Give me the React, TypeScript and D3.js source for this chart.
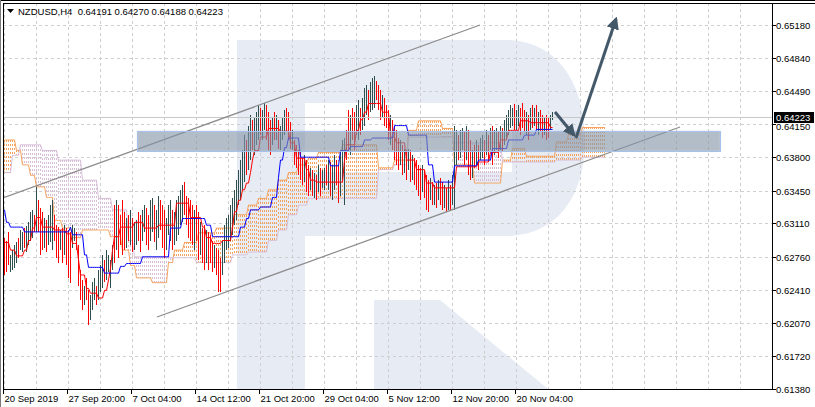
import * as d3 from 'd3'

// ---- chart data (prices in pips, 0.0001) ----
const priceTicks = [0.6518, 0.6484, 0.6449, 0.6415, 0.638, 0.6345, 0.6311, 0.6276, 0.6241, 0.6207, 0.6172, 0.6138]
const timeLabels = ['20 Sep 2019', '27 Sep 20:00', '7 Oct 04:00', '14 Oct 12:00', '21 Oct 20:00', '29 Oct 04:00', '5 Nov 12:00', '12 Nov 20:00', '20 Nov 04:00']
const timeLabelBars = [0, 32, 64, 96, 128, 160, 192, 224, 256]

const highs = [
  6296, 6293, 6302, 6278, 6283, 6288, 6291, 6296, 6304, 6302,
  6306, 6308, 6312, 6323, 6325, 6320, 6349, 6335, 6327, 6323,
  6316, 6314, 6320, 6330, 6335, 6320, 6309, 6307, 6304, 6306,
  6309, 6306, 6304, 6302, 6309, 6306, 6302, 6288, 6262, 6252,
  6246, 6254, 6241, 6236, 6250, 6254, 6246, 6262, 6267, 6278,
  6273, 6283, 6278, 6273, 6288, 6330, 6335, 6330, 6320, 6335,
  6323, 6316, 6320, 6325, 6316, 6312, 6314, 6323, 6320, 6325,
  6330, 6327, 6320, 6335, 6337, 6330, 6325, 6340, 6335, 6330,
  6325, 6316, 6330, 6335, 6325, 6323, 6335, 6340, 6346, 6351,
  6354, 6340, 6337, 6335, 6330, 6325, 6330, 6323, 6312, 6306,
  6309, 6304, 6302, 6299, 6293, 6288, 6285, 6283, 6275, 6293,
  6309, 6316, 6320, 6330, 6337, 6346, 6356, 6367, 6377, 6387,
  6403, 6398, 6413, 6424, 6419, 6421, 6427, 6434, 6431, 6429,
  6437, 6434, 6427, 6419, 6421, 6427, 6424, 6419, 6413, 6421,
  6429, 6431, 6427, 6417, 6408, 6398, 6393, 6387, 6385, 6379,
  6382, 6377, 6372, 6369, 6367, 6364, 6361, 6372, 6369, 6367,
  6369, 6372, 6377, 6375, 6372, 6382, 6377, 6372, 6387, 6398,
  6400, 6408, 6429, 6424, 6431, 6427, 6434, 6440, 6431, 6442,
  6452, 6455, 6450, 6458, 6463, 6465, 6460, 6455, 6450, 6445,
  6442, 6434, 6429, 6424, 6419, 6413, 6408, 6400, 6398, 6393,
  6389, 6387, 6389, 6387, 6382, 6379, 6377, 6372, 6369, 6372,
  6367, 6361, 6356, 6358, 6354, 6351, 6353, 6356, 6358, 6354,
  6351, 6348, 6356, 6351, 6361, 6413, 6408, 6403, 6408, 6410,
  6406, 6413, 6408, 6398, 6387, 6393, 6398, 6393, 6400, 6403,
  6398, 6408, 6403, 6410, 6413, 6408, 6410, 6406, 6413, 6410,
  6419, 6424, 6429, 6434, 6431, 6436, 6429, 6434, 6431, 6437,
  6429, 6427, 6424, 6431, 6434, 6431, 6434, 6427, 6429, 6424,
  6421, 6424, 6421, 6424, 6427,
]
const lows = [
  6257, 6260, 6267, 6260, 6262, 6264, 6270, 6275, 6283, 6281,
  6285, 6281, 6288, 6293, 6296, 6302, 6302, 6302, 6278, 6283,
  6285, 6281, 6288, 6291, 6283, 6293, 6275, 6270, 6283, 6270,
  6278, 6267, 6254, 6249, 6285, 6293, 6283, 6246, 6231, 6220,
  6226, 6231, 6205, 6210, 6220, 6231, 6226, 6231, 6239, 6243,
  6250, 6252, 6260, 6243, 6262, 6270, 6283, 6275, 6288, 6278,
  6283, 6285, 6293, 6288, 6281, 6283, 6288, 6293, 6281, 6293,
  6302, 6288, 6283, 6293, 6302, 6291, 6283, 6296, 6304, 6285,
  6275, 6283, 6299, 6293, 6283, 6288, 6293, 6299, 6309, 6312,
  6320, 6309, 6296, 6293, 6288, 6283, 6293, 6273, 6278, 6270,
  6262, 6270, 6262, 6270, 6260, 6264, 6257, 6239, 6239, 6257,
  6270, 6283, 6285, 6293, 6299, 6309, 6314, 6330, 6335, 6346,
  6354, 6361, 6367, 6377, 6387, 6382, 6393, 6398, 6403, 6398,
  6408, 6398, 6387, 6382, 6393, 6398, 6398, 6389, 6387, 6398,
  6403, 6406, 6398, 6389, 6387, 6372, 6369, 6361, 6356, 6351,
  6354, 6344, 6340, 6346, 6340, 6337, 6335, 6344, 6340, 6348,
  6346, 6351, 6346, 6340, 6335, 6346, 6351, 6332, 6340, 6356,
  6330, 6377, 6387, 6382, 6398, 6387, 6403, 6398, 6403, 6408,
  6413, 6424, 6419, 6427, 6429, 6431, 6440, 6429, 6419, 6421,
  6413, 6410, 6398, 6393, 6387, 6377, 6372, 6367, 6372, 6361,
  6364, 6356, 6367, 6354, 6356, 6351, 6346, 6340, 6335, 6344,
  6337, 6325, 6323, 6335, 6330, 6330, 6327, 6335, 6330, 6325,
  6327, 6323, 6325, 6325, 6330, 6325, 6372, 6377, 6379, 6387,
  6372, 6377, 6361, 6356, 6358, 6369, 6372, 6367, 6377, 6379,
  6372, 6382, 6375, 6387, 6372, 6382, 6387, 6379, 6387, 6385,
  6393, 6398, 6403, 6410, 6413, 6408, 6408, 6413, 6403, 6410,
  6406, 6403, 6398, 6408, 6410, 6413, 6408, 6403, 6406, 6400,
  6403, 6398, 6400, 6408, 6419,
]
// u = bullish bar, d = bearish bar
const barDirs =
  'ddduuuuduu' + 'duuuududdd' + 'uduuudddud' + 'uddduudddd' + 'udduuuduuu' +
  'duuuududdd' + 'dududuuddu' + 'udduuduudd' + 'duuuduuuuu' + 'ddddduddud' +
  'dudddudddu' + 'uuuuuuuuuu' + 'uduuduuudu' + 'udddududuu' + 'uddduddddd' +
  'uddudududu' + 'ududuudduu' + 'uddudduudu' + 'uuduuudddu' + 'ddduddddud' +
  'udududdddu' + 'dddudududd' + 'ududuuuduu' + 'duddududuu' + 'dududuudud' +
  'uuuuuduudd' + 'dududududd' + 'udduu'

// Ichimoku lines as [value, bars] runs
const tenkanRuns = [
  [6291, 3], [6283, 3], [6277, 4], [6283, 2], [6293, 2], [6306, 2], [6317, 3], [6307, 6], [6304, 6], [6300, 3],
  [6290, 3], [6273, 1], [6257, 3], [6243, 2], [6238, 4], [6233, 3], [6241, 2], [6252, 1], [6264, 1], [6283, 1],
  [6297, 3], [6307, 7], [6312, 5], [6306, 7], [6309, 9], [6332, 7], [6317, 6], [6307, 2], [6296, 3], [6290, 5],
  [6293, 5], [6307, 1], [6323, 2], [6335, 2], [6346, 2], [6353, 2], [6364, 1], [6377, 1], [6387, 3], [6401, 4],
  [6410, 6], [6407, 5], [6395, 3], [6379, 5], [6367, 2], [6356, 3], [6354, 14], [6377, 1], [6393, 5], [6408, 2],
  [6419, 2], [6427, 2], [6436, 7], [6427, 4], [6401, 3], [6395, 5], [6377, 5], [6367, 5], [6353, 4], [6348, 11],
  [6370, 11], [6375, 6], [6385, 5], [6398, 4], [6408, 6], [6418, 5], [6416, 10], [6411, 2],
]
const kijunRuns = [
  [6325, 1], [6312, 2], [6307, 7], [6302, 23], [6307, 1], [6299, 6], [6278, 2], [6265, 8], [6259, 8], [6266, 3],
  [6269, 8], [6276, 14], [6306, 6], [6316, 12], [6309, 3], [6297, 14], [6307, 3], [6316, 2], [6325, 5], [6328, 6],
  [6338, 3], [6359, 1], [6377, 2], [6390, 2], [6400, 6], [6380, 15], [6371, 5], [6387, 5], [6391, 7], [6398, 4],
  [6400, 11], [6413, 7], [6403, 10], [6372, 3], [6354, 10], [6371, 12], [6377, 7], [6389, 8], [6398, 8], [6403, 6],
  [6409, 9],
]
const spanARuns = [
  [6398, 6], [6387, 3], [6372, 4], [6361, 3], [6349, 5], [6338, 4], [6314, 4], [6306, 5], [6296, 5], [6304, 14],
  [6297, 6], [6283, 4], [6267, 3], [6254, 8], [6249, 8], [6270, 3], [6283, 5], [6291, 7], [6301, 9], [6306, 9],
  [6320, 7], [6330, 5], [6337, 5], [6346, 5], [6356, 5], [6364, 5], [6372, 5], [6379, 5], [6385, 12], [6393, 18],
  [6369, 8], [6377, 7], [6408, 5], [6418, 12], [6410, 6], [6372, 10], [6353, 14], [6377, 5], [6389, 7], [6381, 15],
  [6396, 6], [6404, 7], [6411, 12],
]
const spanBRuns = [
  [6364, 4], [6382, 4], [6393, 11], [6387, 8], [6377, 12], [6356, 8], [6337, 7], [6325, 8], [6293, 3], [6276, 18],
  [6275, 13], [6270, 18], [6278, 8], [6281, 10], [6293, 5], [6304, 5], [6320, 5], [6330, 5], [6337, 35], [6367, 8],
  [6372, 7], [6401, 23], [6395, 10], [6395, 14], [6375, 12], [6375, 15], [6377, 13], [6380, 12],
]

const lastPrice = 0.64223

const W = 815
const H = 407
const left = 3
const right = 772
const top = 3
const bottom = 389

function expand(runs: number[][]) {
  const out: number[] = []
  runs.forEach(([v, n]) => {
    for (let k = 0; k < n; k++) out.push(v / 10000)
  })
  return out
}

export default function App() {
  const x = d3.scaleLinear().domain([0, 300]).range([4, 604])
  const y = d3.scaleLinear().domain([0.6138, 0.6518]).range([bottom, 25])

  const tenkan = expand(tenkanRuns)
  const kijun = expand(kijunRuns)
  const spanA = expand(spanARuns)
  const spanB = expand(spanBRuns)

  const line = d3.line<number>().x((d, i) => x(i) + 0.5).y(d => y(d))

  const gridX = d3.range(left + 1, right, 32)
  const font = "'Liberation Sans', Arial, sans-serif"
  const armColor = '#435869'
  const bidY = Math.round(y(lastPrice))

  return (
    <svg width={W} height={H} style={{ display: 'block', position: 'absolute', left: 0, top: 0, background: '#fff' }}>
      <defs>
        <clipPath id="plot">
          <rect x={left} y={top} width={right - left} height={bottom - top} />
        </clipPath>
        <filter id="soft" x="-5%" y="-50%" width="110%" height="200%">
          <feGaussianBlur stdDeviation="1.2" />
        </filter>
        <marker id="head" viewBox="0 0 10 10" refX="8" refY="5" markerWidth="4.2" markerHeight="4.2" orient="auto">
          <path d="M0,0 L10,5 L0,10 Z" fill={armColor} />
        </marker>
      </defs>
      <rect width={W} height={H} fill="#fff" />

      <g clipPath="url(#plot)">
        {/* watermark */}
        <path
          fillRule="evenodd"
          fill="#e6ebf4"
          d="M237,40 H505 C556,40 585,82 585,140 C585,198 556,236 505,236 H305 V389 H237 Z M305,103 H512 V172 H305 Z"
        />
        <path fill="#e6ebf4" d="M374,300 H440 L548,389 H374 Z" />

        {/* grid */}
        {gridX.map(gx => (
          <line key={'gx' + gx} x1={gx + 0.5} x2={gx + 0.5} y1={top} y2={bottom} stroke="#cfcfcf" strokeDasharray="3,3" />
        ))}
        {priceTicks.map(p => (
          <line key={'gy' + p} x1={left} x2={right} y1={Math.round(y(p)) + 0.5} y2={Math.round(y(p)) + 0.5} stroke="#cfcfcf" strokeDasharray="3,3" />
        ))}

        {/* cloud */}
        <g shapeRendering="crispEdges">
          {spanA.map((a, i) => {
            const b = spanB[i]
            return (
              <line key={'c' + i} x1={x(i) + 0.5} x2={x(i) + 0.5} y1={Math.round(y(Math.max(a, b)))} y2={Math.round(y(Math.min(a, b)))}
                stroke={a >= b ? '#f4a460' : '#d8bfd8'} strokeDasharray="2,2" />
            )
          })}
        </g>
        <path d={line(spanA) || ''} fill="none" stroke="#f4a460" strokeWidth={1} />
        <path d={line(spanB) || ''} fill="none" stroke="#d8bfd8" strokeWidth={1} />

        {/* price bars */}
        <g shapeRendering="crispEdges">
          {highs.map((h, i) => (
            <line key={'b' + i} x1={x(i) + 0.5} x2={x(i) + 0.5} y1={Math.round(y(h / 10000))} y2={Math.round(y(lows[i] / 10000))}
              stroke={barDirs[i] === 'u' ? '#2f4f4f' : '#ff0000'} strokeWidth={1} />
          ))}
        </g>

        <path d={line(tenkan) || ''} fill="none" stroke="#ff0000" strokeWidth={1} />
        <path d={line(kijun) || ''} fill="none" stroke="#0000ff" strokeWidth={1} />

        {/* bid line */}
        <line x1={left} x2={right} y1={bidY + 0.5} y2={bidY + 0.5} stroke="#c8c8c8" />

        {/* channel */}
        <line x1={3} y1={198} x2={480} y2={25} stroke="#8c8c8c" strokeWidth={1.2} />
        <line x1={157} y1={317} x2={680} y2={127} stroke="#8c8c8c" strokeWidth={1.2} />

        {/* support band */}
        <rect x={137} y={131} width={583} height={20} fill="#7d8fa3" opacity={0.25} filter="url(#soft)" />
        <rect x={137.5} y={131.5} width={583} height={20} fill="#8898aa" fillOpacity={0.5} stroke="#a6c2ea" strokeWidth={1} />

        {/* forecast arrows */}
        <line x1={555} y1={112} x2={574} y2={135} stroke={armColor} strokeWidth={3} markerEnd="url(#head)" />
        <line x1={576} y1={138} x2={616} y2={19} stroke={armColor} strokeWidth={3} markerEnd="url(#head)" />
      </g>

      {/* frame */}
      <line x1={0} x2={W} y1={0.5} y2={0.5} stroke="#000" />
      <line x1={0.5} x2={0.5} y1={0} y2={H} stroke="#7a7a7a" />
      <line x1={left} x2={W} y1={top + 0.5} y2={top + 0.5} stroke="#000" />
      <line x1={left + 0.5} x2={left + 0.5} y1={top} y2={bottom + 1} stroke="#000" />
      <line x1={right + 0.5} x2={right + 0.5} y1={top} y2={bottom + 1} stroke="#000" />
      <line x1={left} x2={right + 1} y1={bottom + 0.5} y2={bottom + 0.5} stroke="#000" />

      {/* price axis */}
      {priceTicks.map(p => {
        const py = Math.round(y(p)) + 0.5
        const shift = Math.abs(p - lastPrice) < 0.001 ? 2 : 0
        return (
          <g key={'pt' + p}>
            <line x1={right} x2={right + 4} y1={py} y2={py} stroke="#000" />
            <text x={776} y={py + 3.5 + shift} fontFamily={font} fontSize={9.5} fill="#000">{d3.format('.5f')(p)}</text>
          </g>
        )
      })}
      <rect x={774} y={bidY - 5} width={40} height={11} fill="#000" />
      <text x={776} y={bidY + 3.5} fontFamily={font} fontSize={9.5} fill="#fff">{d3.format('.5f')(lastPrice)}</text>

      {/* time axis */}
      {timeLabelBars.map((b, k) => {
        const tx = Math.round(x(b)) - 0.5
        return (
          <g key={'tt' + k}>
            <line x1={tx} x2={tx} y1={bottom} y2={bottom + 5} stroke="#000" />
            <text x={tx + 1} y={402} fontFamily={font} fontSize={9.5} fill="#000">{timeLabels[k]}</text>
          </g>
        )
      })}

      {/* title */}
      <path d="M7,9 L14,9 L10.5,13 Z" fill="#000" />
      <text x={18} y={15} fontFamily={font} fontSize={9.5} fill="#000" xmlSpace="preserve">NZDUSD,H4  0.64191 0.64270 0.64188 0.64223</text>
    </svg>
  )
}
